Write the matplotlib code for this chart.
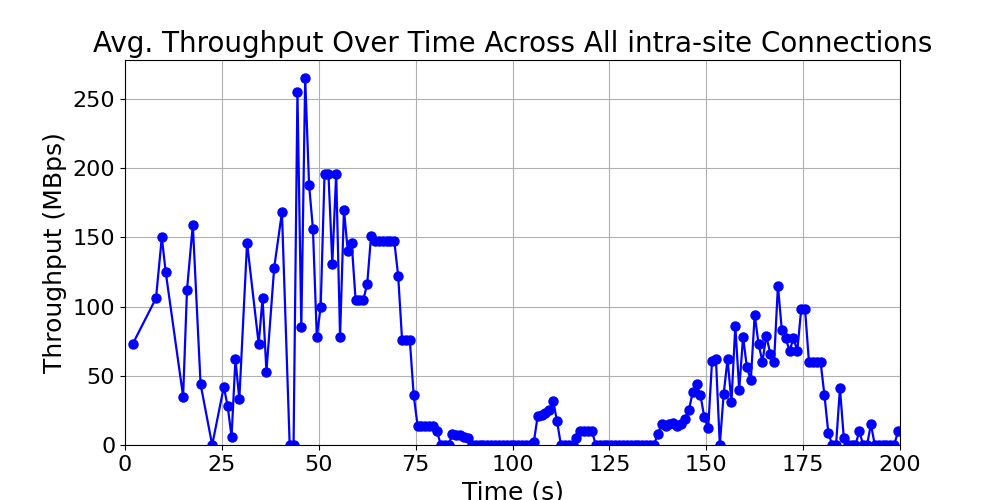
import matplotlib
matplotlib.use("Agg")
import matplotlib.pyplot as plt

time_s = [2, 8, 9.5, 10.5, 15, 16, 17.5, 19.5, 22.5, 25.5, 26.5, 27.5, 28.5, 29.5,
          31.5, 34.5, 35.5, 36.5, 38.5, 40.5, 42.5, 43.5, 44.5, 45.5, 46.5, 47.5,
          48.5, 49.5, 50.5, 51.5, 52.5, 53.5, 54.5, 55.5, 56.5, 57.5, 58.5, 59.5,
          60.5, 61.5, 62.5, 63.5, 64.5, 65.5, 66.5, 67.5, 68.5, 69.5, 70.5, 71.5,
          72.5, 73.5, 74.5, 75.5, 76.5, 77.5, 78.5, 79.5, 80.5, 81.5, 82.5, 83.5,
          84.5, 85.5, 86.5, 87.5, 88.5, 89.5, 90.5, 91.5, 92.5, 93.5, 94.5, 95.5,
          96.5, 97.5, 98.5, 99.5, 100.5, 101.5, 102.5, 103.5, 104.5, 105.5, 106.5,
          107.5, 108.5, 109.5, 110.5, 111.5, 112.5, 113.5, 114.5, 115.5, 116.5,
          117.5, 118.5, 119.5, 120.5, 121.5, 122.5, 123.5, 124.5, 125.5, 126.5,
          127.5, 128.5, 129.5, 130.5, 131.5, 132.5, 133.5, 134.5, 135.5, 136.5,
          137.5, 138.5, 139.5, 140.5, 141.5, 142.5, 143.5, 144.5, 145.5, 146.5,
          147.5, 148.5, 149.5, 150.5, 151.5, 152.5, 153.5, 154.5, 155.5, 156.5,
          157.5, 158.5, 159.5, 160.5, 161.5, 162.5, 163.5, 164.5, 165.5, 166.5,
          167.5, 168.5, 169.5, 170.5, 171.5, 172.5, 173.5, 174.5, 175.5, 176.5,
          177.5, 178.5, 179.5, 180.5, 181.5, 182.5, 183.5, 184.5, 185.5, 186.5,
          187.5, 188.5, 189.5, 190.5, 191.5, 192.5, 193.5, 194.5, 195.5, 196.5,
          197.5, 198.5, 199.5]
throughput = [73, 106, 150, 125, 35, 112, 159, 44, 0, 42, 28, 6, 62, 33,
              146, 73, 106, 53, 128, 168, 0, 0, 255, 85, 265, 188,
              156, 78, 100, 196, 196, 131, 196, 78, 170, 140, 146, 105,
              105, 105, 116, 151, 147, 147, 147, 147, 147, 147, 122, 76,
              76, 76, 36, 14, 14, 14, 14, 14, 10, 0, 0, 0,
              8, 7, 7, 6, 5, 0, 0, 0, 0, 0, 0, 0,
              0, 0, 0, 0, 0, 0, 0, 0, 0, 2, 21,
              22, 23, 25, 32, 17, 0, 0, 0, 0, 5,
              10, 10, 10, 10, 0, 0, 0, 0, 0, 0,
              0, 0, 0, 0, 0, 0, 0, 0, 0, 0,
              8, 15, 14, 15, 16, 14, 15, 19, 25, 38,
              44, 36, 20, 12, 61, 62, 0, 37, 62, 31,
              86, 40, 78, 56, 47, 94, 73, 60, 79, 66,
              60, 115, 83, 77, 68, 77, 68, 98, 98, 60,
              60, 60, 60, 36, 9, 0, 0, 41, 5, 0,
              0, 0, 10, 0, 0, 15, 0, 0, 0, 0,
              0, 0, 10]

fig, ax = plt.subplots(figsize=(10, 5), dpi=100)
ax.plot(time_s, throughput, "o-", color="blue", lw=1.6, ms=6.5)
ax.set_xlim(0, 200)
ax.set_ylim(0, 278)
ax.set_xlabel("Time (s)", fontsize=18)
ax.set_ylabel("Throughput (MBps)", fontsize=18)
ax.set_title("Avg. Throughput Over Time Across All intra-site Connections", fontsize=20)
ax.tick_params(labelsize=16)
ax.grid(True)
fig.subplots_adjust(left=0.125, right=0.9, top=0.88, bottom=0.11)
fig.savefig("out.png")
